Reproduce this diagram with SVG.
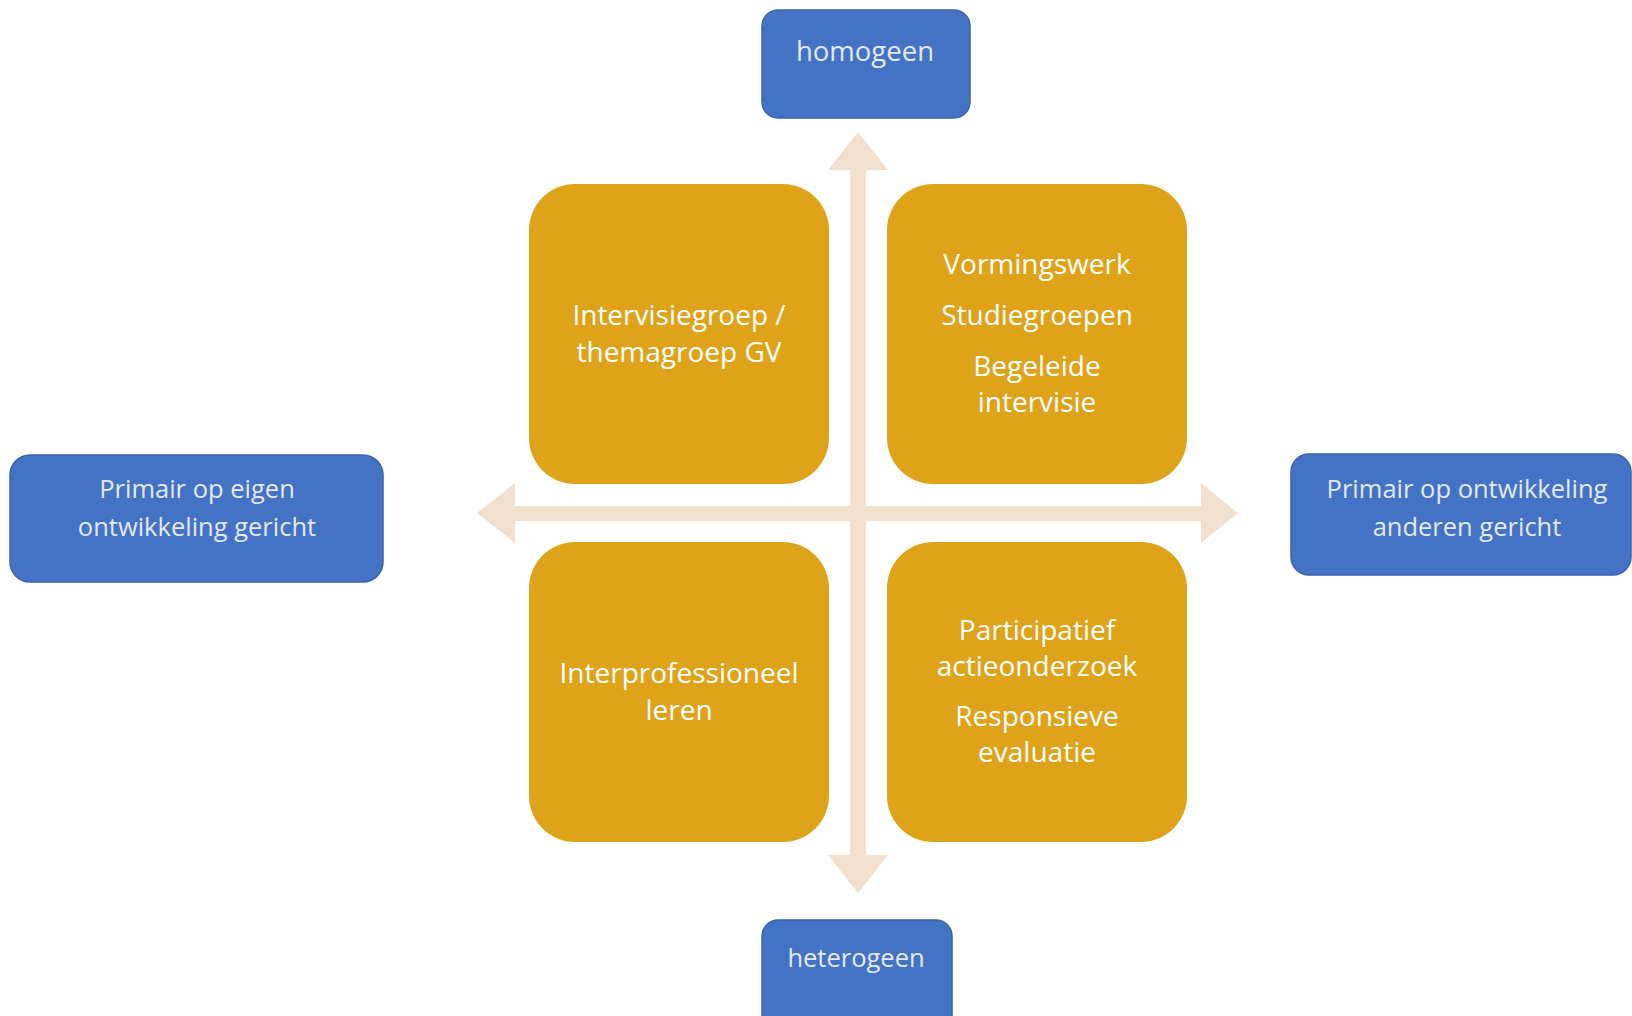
<svg xmlns="http://www.w3.org/2000/svg" width="1632" height="1016" viewBox="0 0 1632 1016">
<style>
.blue{fill:#4472C4;stroke:#3A63AE;stroke-width:1.5}
.orange{fill:#DFA31A}
.arrow{fill:#F2E0CE}
.bt{font-family:"Open Sans","Liberation Sans",sans-serif;font-size:25.5px;fill:#E2E9F5;text-anchor:middle;font-weight:500}
.bt2{font-size:27.5px}
.ot{font-family:"Open Sans","Liberation Sans",sans-serif;font-size:28px;fill:#FFFFFF;text-anchor:middle}
</style>
<rect width="1632" height="1016" fill="#FFFFFF"/>
<g id="connectors">
<polygon class="arrow" points="858,132 888,170 866,170 866,855 888,855 858,893 828,855 850,855 850,170 828,170"/>
<polygon class="arrow" points="477,513 515,483 515,506 1201,506 1201,483 1238,513 1201,543 1201,521 515,521 515,543"/>
</g>
<g id="node-homogeen">
<rect class="blue" x="762" y="10" width="208" height="108" rx="16"/>
<text class="bt bt2" x="865" y="61">homogeen</text>
</g>
<g id="node-heterogeen">
<rect class="blue" x="762" y="920" width="190" height="120" rx="16"/>
<text class="bt" x="856" y="967">heterogeen</text>
</g>
<g id="node-eigen">
<rect class="blue" x="10" y="455" width="373" height="127" rx="20"/>
<text class="bt" x="197" y="498">Primair op eigen</text>
<text class="bt" x="197" y="536">ontwikkeling gericht</text>
</g>
<g id="node-anderen">
<rect class="blue" x="1291" y="454" width="340" height="121" rx="18"/>
<text class="bt" x="1467" y="498">Primair op ontwikkeling</text>
<text class="bt" x="1467" y="536">anderen gericht</text>
</g>
<g id="node-intervisiegroep">
<rect class="orange" x="529" y="184" width="300" height="300" rx="46"/>
<text class="ot" x="679" y="325">Intervisiegroep /</text>
<text class="ot" x="679" y="362">themagroep GV</text>
</g>
<g id="node-vormingswerk">
<rect class="orange" x="887" y="184" width="300" height="300" rx="46"/>
<text class="ot" x="1037" y="274">Vormingswerk</text>
<text class="ot" x="1037" y="325">Studiegroepen</text>
<text class="ot" x="1037" y="376">Begeleide</text>
<text class="ot" x="1037" y="412">intervisie</text>
</g>
<g id="node-interprofessioneel">
<rect class="orange" x="529" y="542" width="300" height="300" rx="46"/>
<text class="ot" x="679" y="683">Interprofessioneel</text>
<text class="ot" x="679" y="720">leren</text>
</g>
<g id="node-participatief">
<rect class="orange" x="887" y="542" width="300" height="300" rx="46"/>
<text class="ot" x="1037" y="640">Participatief</text>
<text class="ot" x="1037" y="676">actieonderzoek</text>
<text class="ot" x="1037" y="726">Responsieve</text>
<text class="ot" x="1037" y="762">evaluatie</text>
</g>
</svg>
